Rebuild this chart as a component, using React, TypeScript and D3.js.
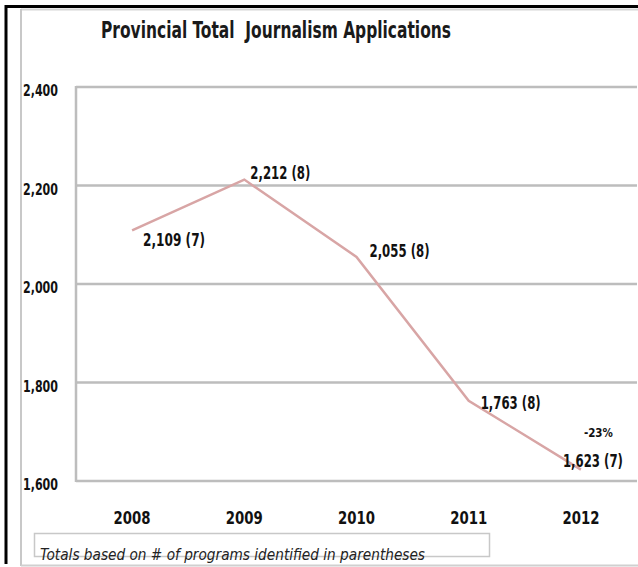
import React from "react";
import * as d3 from "d3";

const years = ["2008", "2009", "2010", "2011", "2012"];
const totals = [2109, 2212, 2055, 1763, 1623];
const programs = [7, 8, 8, 8, 7];
const yTicks = [1600, 1800, 2000, 2200, 2400];
const title = "Provincial Total  Journalism Applications";
const footnote = "Totals based on # of programs identified in parentheses";
const changeNote = "-23%";

const W = 638;
const H = 567;
const FONT = "'DejaVu Sans Condensed', 'DejaVu Sans', 'Open Sans', sans-serif";

export default function App() {
  const left = 76;
  const right = 637;
  const top = 87;
  const bottom = 481;
  const x = d3.scalePoint<string>().domain(years).range([left, right]).padding(0.5);
  const y = d3.scaleLinear().domain([1600, 2400]).range([bottom, top]);
  const line = d3
    .line<number>()
    .x((_, i) => x(years[i]) as number)
    .y((d) => y(d));
  const fmt = d3.format(",");

  // label offsets per point (dx, dy relative to point), text start-anchored
  const labelOffsets: [number, number][] = [
    [11, 16],
    [6, -1],
    [13, 0],
    [12, 8],
    [-18, -3],
  ];
  const labelWidths = [62, 60, 60, 60, 60];

  return (
    <svg
      width={W}
      height={H}
      style={{ position: "absolute", left: 0, top: 0, background: "#fff" }}
      fontFamily={FONT}
    >
      {/* outer frame */}
      <line x1={6} y1={6.5} x2={W} y2={6.5} stroke="#000" strokeWidth={3} />
      <line x1={6} y1={5} x2={6} y2={564} stroke="#000" strokeWidth={3} />
      <line x1={21} y1={9.5} x2={W} y2={9.5} stroke="#d6d6d6" strokeWidth={2} />
      <line x1={21} y1={9} x2={21} y2={566} stroke="#c8c8c8" strokeWidth={2} />
      <line x1={21} y1={565.5} x2={W} y2={565.5} stroke="#d0d0d0" strokeWidth={2} />

      {/* title */}
      <text
        x={101}
        y={38}
        fontSize={23}
        fontWeight="bold"
        fill="#1a1a1a"
        textLength={350}
        lengthAdjust="spacingAndGlyphs"
        style={{ whiteSpace: "pre" }}
      >
        {title}
      </text>

      {/* gridlines */}
      {yTicks.map((t) => (
        <line
          key={t}
          x1={left}
          x2={right}
          y1={y(t)}
          y2={y(t)}
          stroke="#bdbdbd"
          strokeWidth={2.5}
        />
      ))}
      <line x1={left} x2={left} y1={top - 1} y2={bottom + 1} stroke="#bdbdbd" strokeWidth={2.5} />

      {/* y tick labels */}
      {yTicks.map((t) => (
        <text
          key={t}
          x={23}
          y={y(t) + 9}
          fontSize={16.5}
          fontWeight="bold"
          fill="#111"
          textLength={35}
          lengthAdjust="spacingAndGlyphs"
        >
          {fmt(t)}
        </text>
      ))}

      {/* x labels */}
      {years.map((yr) => (
        <text
          key={yr}
          x={(x(yr) as number) - 18.5}
          y={524}
          fontSize={17}
          fontWeight="bold"
          fill="#111"
          textLength={37}
          lengthAdjust="spacingAndGlyphs"
        >
          {yr}
        </text>
      ))}

      {/* data line */}
      <path d={line(totals) || ""} fill="none" stroke="#d8a5a5" strokeWidth={2.5} />

      {/* data labels */}
      {totals.map((v, i) => (
        <text
          key={i}
          x={(x(years[i]) as number) + labelOffsets[i][0]}
          y={y(v) + labelOffsets[i][1]}
          fontSize={17.5}
          fontWeight="bold"
          fill="#111"
          textLength={labelWidths[i]}
          lengthAdjust="spacingAndGlyphs"
        >
          {`${fmt(v)} (${programs[i]})`}
        </text>
      ))}
      <text
        x={(x(years[4]) as number) + 3}
        y={y(totals[4]) - 33}
        fontSize={12.5}
        fontWeight="bold"
        fill="#111"
        textLength={29}
        lengthAdjust="spacingAndGlyphs"
      >
        {changeNote}
      </text>

      {/* footnote */}
      <rect x={34.5} y={533.5} width={455} height={23} fill="none" stroke="#c8c8c8" strokeWidth={1.5} />
      <text
        x={40}
        y={560}
        fontSize={15}
        fontStyle="italic"
        fill="#222"
        textLength={385}
        lengthAdjust="spacingAndGlyphs"
      >
        {footnote}
      </text>
    </svg>
  );
}
